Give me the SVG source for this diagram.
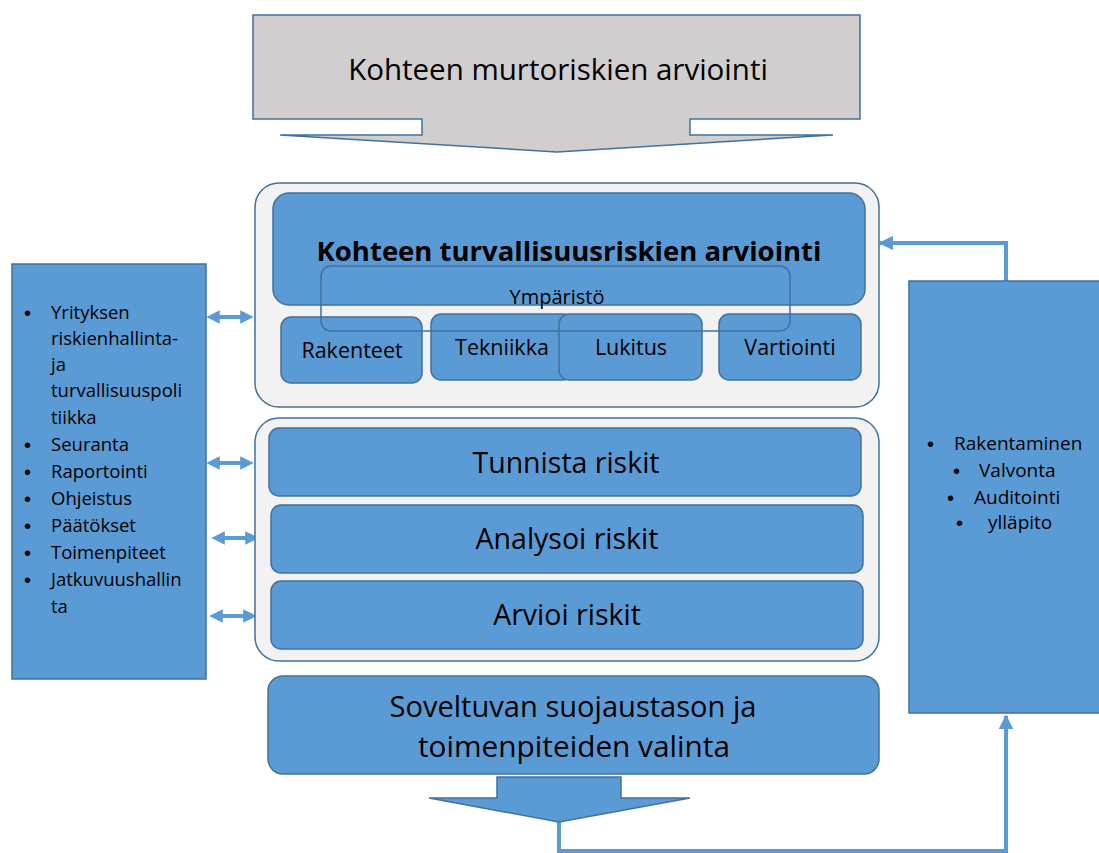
<svg xmlns="http://www.w3.org/2000/svg" width="1099" height="853" viewBox="0 0 1099 853">
  <defs>
    <style>
      .blue { fill: #5b9bd5; stroke: #41719c; stroke-width: 1.5; }
      .panel { fill: #f2f2f2; stroke: #41719c; stroke-width: 1.5; }
      .gray { fill: #d0cece; stroke: #41719c; stroke-width: 1.5; }
      .ring { fill: none; stroke: #41719c; stroke-width: 1.5; }
      .t { font-family: "Open Sans", Lato, "Liberation Sans", sans-serif; fill: #000; }
      .b { font-family: "Liberation Sans", sans-serif; font-size: 20px; fill: #000; }
      .c { text-anchor: middle; }
      .flow { fill: none; stroke: #5b9bd5; stroke-width: 4; }
      .dbl { fill: none; stroke: #5b9bd5; stroke-width: 4; marker-start: url(#headL); marker-end: url(#headR); }
    </style>
    <marker id="headR" viewBox="0 0 10 10" refX="5" refY="5" markerWidth="3.4" markerHeight="3.4" orient="auto" markerUnits="strokeWidth">
      <path d="M0,0 L10,5 L0,10 Z" fill="#5b9bd5"/>
    </marker>
    <marker id="headL" viewBox="0 0 10 10" refX="5" refY="5" markerWidth="3.4" markerHeight="3.4" orient="auto-start-reverse" markerUnits="strokeWidth">
      <path d="M0,0 L10,5 L0,10 Z" fill="#5b9bd5"/>
    </marker>
    <marker id="head" viewBox="0 0 10 10" refX="9" refY="5" markerWidth="3.6" markerHeight="3.6" orient="auto" markerUnits="strokeWidth">
      <path d="M0,0 L10,5 L0,10 Z" fill="#5b9bd5"/>
    </marker>
  </defs>

  <!-- connectors -->
  <g id="connectors">
    <line class="dbl" x1="213" y1="317" x2="247" y2="317"/>
    <line class="dbl" x1="213" y1="463" x2="247" y2="463"/>
    <line class="dbl" x1="218" y1="538" x2="252" y2="538"/>
    <line class="dbl" x1="216" y1="616" x2="250" y2="616"/>
    <polyline class="flow" points="1006,281 1006,243 880,243" marker-end="url(#head)"/>
    <polyline class="flow" points="559,820 559,851 1006,851 1006,716" marker-end="url(#head)"/>
  </g>

  <!-- top callout -->
  <g id="murtoriskit">
    <path class="gray" d="M253,15 H860 V119 H690 V135 H833 L557,152 L280,135 H422 V119 H253 Z"/>
    <text class="t c" x="558" y="80" font-size="29.5">Kohteen murtoriskien arviointi</text>
  </g>

  <!-- left list -->
  <g id="hallinta">
    <rect class="blue" x="12" y="264" width="194" height="415"/>
    <g class="b">
      <text x="24" y="320">•</text>
      <text x="24" y="452">•</text>
      <text x="24" y="479">•</text>
      <text x="24" y="506">•</text>
      <text x="24" y="533">•</text>
      <text x="24" y="560">•</text>
      <text x="24" y="587">•</text>
    </g>
    <g class="t" font-size="18.5">
      <text x="51" y="319">Yrityksen</text>
      <text x="51" y="345">riskienhallinta-</text>
      <text x="51" y="371">ja</text>
      <text x="51" y="397">turvallisuuspoli</text>
      <text x="51" y="424">tiikka</text>
      <text x="51" y="451">Seuranta</text>
      <text x="51" y="478">Raportointi</text>
      <text x="51" y="505">Ohjeistus</text>
      <text x="51" y="532">Päätökset</text>
      <text x="51" y="559">Toimenpiteet</text>
      <text x="51" y="586">Jatkuvuushallin</text>
      <text x="51" y="613">ta</text>
    </g>
  </g>

  <!-- security assessment panel -->
  <g id="turvallisuus">
    <rect class="panel" x="255" y="183" width="624" height="224" rx="24"/>
    <rect class="blue" x="273" y="193" width="592" height="112" rx="16"/>
    <text class="t c" x="569" y="261" font-size="27.5" font-weight="bold">Kohteen turvallisuusriskien arviointi</text>
  </g>
  <g id="rakenteet">
    <rect class="blue" x="281" y="317" width="141" height="66" rx="10"/>
    <text class="t c" x="352" y="358" font-size="21.5">Rakenteet</text>
  </g>
  <g id="tekniikka">
    <rect class="blue" x="431" y="314" width="142" height="66" rx="10"/>
    <text class="t c" x="502" y="355" font-size="21.5">Tekniikka</text>
  </g>
  <g id="lukitus">
    <rect class="blue" x="559" y="314" width="143" height="66" rx="10"/>
    <text class="t c" x="631" y="355" font-size="21.5">Lukitus</text>
  </g>
  <g id="vartiointi">
    <rect class="blue" x="719" y="314" width="142" height="66" rx="10"/>
    <text class="t c" x="790" y="355" font-size="21.5">Vartiointi</text>
  </g>
  <g id="ymparisto">
    <rect class="ring" x="321" y="266" width="469" height="65" rx="10"/>
    <text class="t c" x="557" y="304" font-size="20">Ympäristö</text>
  </g>

  <!-- risk process panel -->
  <g id="riskiprosessi">
    <rect class="panel" x="255" y="418" width="624" height="243" rx="24"/>
  </g>
  <g id="tunnista">
    <rect class="blue" x="269" y="428" width="592" height="68" rx="10"/>
    <text class="t c" x="566" y="473" font-size="28.5">Tunnista riskit</text>
  </g>
  <g id="analysoi">
    <rect class="blue" x="271" y="505" width="592" height="68" rx="10"/>
    <text class="t c" x="567" y="549" font-size="28.5">Analysoi riskit</text>
  </g>
  <g id="arvioi">
    <rect class="blue" x="271" y="581" width="592" height="68" rx="10"/>
    <text class="t c" x="567" y="625" font-size="28.5">Arvioi riskit</text>
  </g>

  <!-- selection -->
  <g id="valinta">
    <rect class="blue" x="268" y="676" width="611" height="98" rx="15"/>
    <text class="t c" x="573" y="717" font-size="30" textLength="367" lengthAdjust="spacingAndGlyphs">Soveltuvan suojaustason ja</text>
    <text class="t c" x="574" y="757" font-size="30" textLength="312" lengthAdjust="spacingAndGlyphs">toimenpiteiden valinta</text>
    <path class="blue" d="M497,777 H621 V798 H690 L559,822 L429,798 H497 Z"/>
  </g>

  <!-- right list -->
  <g id="toteutus">
    <rect class="blue" x="909" y="281" width="195" height="432"/>
    <g class="b">
      <text x="927" y="451">•</text>
      <text x="953" y="478">•</text>
      <text x="947" y="505">•</text>
      <text x="956" y="530">•</text>
    </g>
    <g class="t" font-size="19">
      <text x="954" y="450">Rakentaminen</text>
      <text x="979" y="477">Valvonta</text>
      <text x="974" y="504">Auditointi</text>
      <text x="988" y="529">ylläpito</text>
    </g>
  </g>
</svg>
